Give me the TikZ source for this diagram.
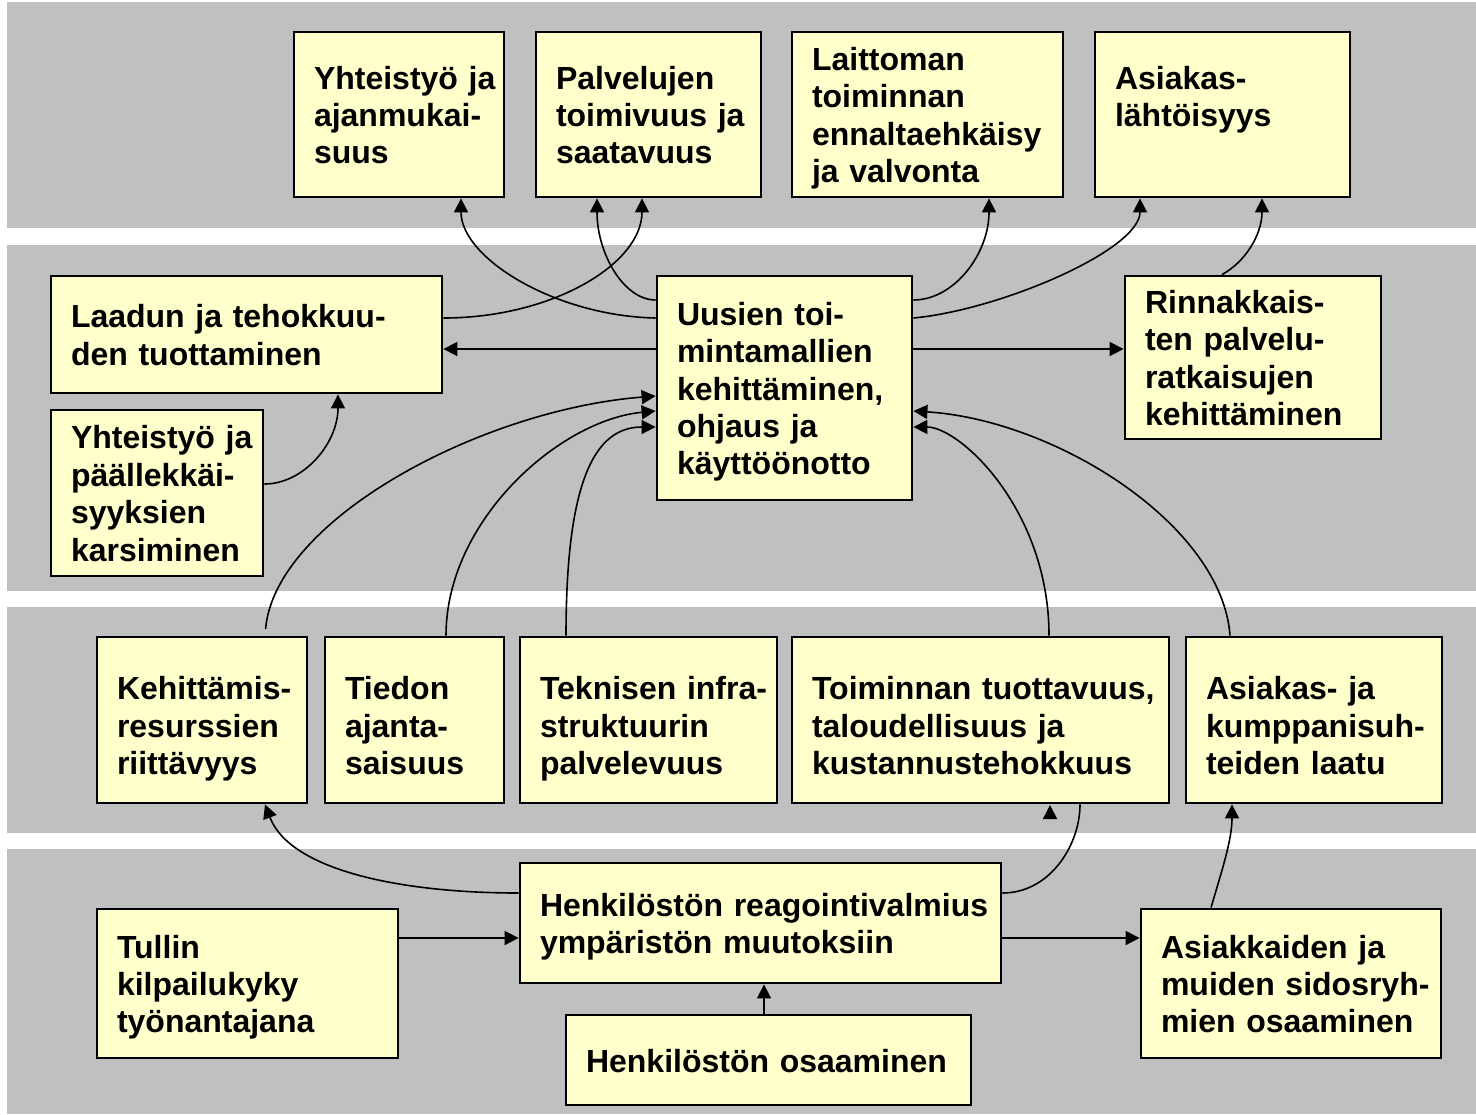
\documentclass[tikz,border=0pt]{standalone}
\usepackage{fontspec}
\setmainfont{Liberation Sans}
\usetikzlibrary{arrows.meta}
\definecolor{bandgrey}{HTML}{C0C0C0}
\definecolor{boxyellow}{HTML}{FFFFCC}
\newcommand\lnb[1]{\mbox{#1}}
\tikzset{
  box/.style={draw=black, line width=2.1pt, fill=boxyellow, inner xsep=15pt, inner ysep=0pt,
    align=left, font=\bfseries\fontsize{24}{28.1}\selectfont,
    execute at begin node={\rule{0pt}{24pt}},
    execute at end node={\rule[-6pt]{0pt}{6pt}}},
  lowbox/.style={box,
    execute at begin node={\rule{0pt}{32pt}}},
  arr/.style={line width=1.2pt, -{Triangle[length=10.5pt,width=10.5pt]}},
  con/.style={line width=1.2pt},
}
\begin{document}
\begin{tikzpicture}[x=0.75pt, y=-0.75pt]
\useasboundingbox (0,0) rectangle (1476,1114);
% bands
\fill[bandgrey] (7,2) rectangle (1476,228);
\fill[bandgrey] (7,245) rectangle (1476,591);
\fill[bandgrey] (7,607) rectangle (1476,833);
\fill[bandgrey] (7,849) rectangle (1476,1114);

% row 1
\node[box, minimum width=157.5pt, minimum height=123.75pt, text width=127.5pt] (A1) at (399,114.5)
  {\lnb{Yhteistyö ja}\\\lnb{ajanmukai-}\\\lnb{suus}};
\node[box, minimum width=168.75pt, minimum height=123.75pt, text width=138.75pt] (A2) at (648.5,114.5)
  {\lnb{Palvelujen}\\\lnb{toimivuus ja}\\\lnb{saatavuus}};
\node[box, minimum width=203.25pt, minimum height=123.75pt, text width=173.25pt] (A3) at (927.5,114.5)
  {\lnb{Laittoman}\\\lnb{toiminnan}\\\lnb{ennaltaehkäisy}\\\lnb{ja valvonta}};
\node[box, minimum width=191.25pt, minimum height=123.75pt, text width=161.25pt] (A4) at (1222.5,114.5)
  {\lnb{Asiakas-}\\\lnb{lähtöisyys}\\\mbox{}};

% row 2
\node[box, minimum width=293.25pt, minimum height=87.75pt, text width=263.25pt] (B1) at (246.5,334.5)
  {\lnb{Laadun ja tehokkuu-}\\\lnb{den tuottaminen}};
\node[box, minimum width=159pt, minimum height=124.5pt, text width=129pt] (B2) at (157,493)
  {\lnb{Yhteistyö ja}\\\lnb{päällekkäi-}\\\lnb{syyksien}\\\lnb{karsiminen}};
\node[box, minimum width=191.25pt, minimum height=168pt, text width=161.25pt] (C) at (784.5,388)
  {\lnb{Uusien toi-}\\\lnb{mintamallien}\\\lnb{kehittäminen,}\\\lnb{ohjaus ja}\\\lnb{käyttöönotto}};
\node[box, minimum width=192pt, minimum height=122.25pt, text width=162pt] (B3) at (1253,357.5)
  {\lnb{Rinnakkais-}\\\lnb{ten palvelu-}\\\lnb{ratkaisujen}\\\lnb{kehittäminen}};

% row 3
\node[lowbox, minimum width=157.5pt, minimum height=124.5pt, text width=127.5pt] (D1) at (202,720)
  {\lnb{Kehittämis-}\\\lnb{resurssien}\\\lnb{riittävyys}};
\node[lowbox, minimum width=134.25pt, minimum height=124.5pt, text width=104.25pt] (D2) at (414.5,720)
  {\lnb{Tiedon}\\\lnb{ajanta-}\\\lnb{saisuus}};
\node[lowbox, minimum width=192.75pt, minimum height=124.5pt, text width=162.75pt] (D3) at (648.5,720)
  {\lnb{Teknisen infra-}\\\lnb{struktuurin}\\\lnb{palvelevuus}};
\node[lowbox, minimum width=282.75pt, minimum height=124.5pt, text width=252.75pt] (D4) at (980.5,720)
  {\lnb{Toiminnan tuottavuus,}\\\lnb{taloudellisuus ja}\\\lnb{kustannustehokkuus}};
\node[lowbox, minimum width=192pt, minimum height=124.5pt, text width=162pt] (D5) at (1314,720)
  {\lnb{Asiakas- ja}\\\lnb{kumppanisuh-}\\\lnb{teiden laatu}};

% row 4
\node[box, minimum width=360.75pt, minimum height=90pt, text width=330.75pt] (E1) at (760.5,923)
  {\lnb{Henkilöstön reagointivalmius}\\\lnb{ympäristön muutoksiin}};
\node[box, minimum width=225.75pt, minimum height=111.75pt, text width=195.75pt] (E2) at (247.5,983.5)
  {\lnb{Tullin}\\\lnb{kilpailukyky}\\\lnb{työnantajana}};
\node[box, minimum width=225pt, minimum height=111.75pt, text width=195pt] (E3) at (1291,983.5)
  {\lnb{Asiakkaiden ja}\\\lnb{muiden sidosryh-}\\\lnb{mien osaaminen}};
\node[box, minimum width=303.75pt, minimum height=67.5pt, text width=273.75pt] (E4) at (768.5,1060)
  {\lnb{Henkilöstön osaaminen}};

% connectors to row 1
\draw[arr] (C.west |- 0,318) .. controls (555,316) and (461,258) .. (A1.south -| 461,0);
\draw[arr] (B1.east |- 0,318) .. controls (552,318) and (642,264) .. (A2.south -| 642,0);
\draw[arr] (C.west |- 0,300) .. controls (624,300) and (597,254) .. (A2.south -| 597,0);
\draw[arr] (C.east |- 0,300) .. controls (954,300) and (989,254) .. (A3.south -| 989,0);
\draw[arr] (C.east |- 0,318) .. controls (1000,310) and (1140,250) .. (A4.south -| 1140,0);
\draw[arr] (B3.north -| 1222,0) .. controls (1245,262) and (1262,235) .. (A4.south -| 1262,0);

% row 2 horizontals
\draw[arr] (C.west |- 0,349) -- (B1.east |- 0,349);
\draw[arr] (C.east |- 0,349) -- (B3.west |- 0,349);
\draw[arr] (B2.east |- 0,484) .. controls (304,484) and (338,443) .. (B1.south -| 338,0);

% row 3 to C
\draw[arr, shorten <=5pt] (D1.north -| 265,0) .. controls (275,520) and (480,410) .. (C.west |- 0,396);
\draw[arr] (D2.north -| 446,0) .. controls (446,520) and (560,420) .. (C.west |- 0,411);
\draw[arr] (D3.north -| 566,0) .. controls (566,480) and (595,427) .. (C.west |- 0,427);
\draw[arr] (D4.north -| 1049,0) .. controls (1049,510) and (960,427) .. (C.east |- 0,427);
\draw[arr] (D5.north -| 1230,0) .. controls (1222,525) and (1056,420) .. (C.east |- 0,411);

% row 4
\draw[arr] (E1.west |- 0,893) .. controls (400,893) and (290,870) .. (D1.south -| 265,0);
\draw[con] (E1.east |- 0,893) .. controls (1050,893) and (1080,845) .. (D4.south -| 1080,0);
\coordinate (tipbase) at (1050,818);
\coordinate (tiptop) at (1050,805);
\draw[arr] (tipbase) -- (tiptop);
\draw[arr] (E1.east |- 0,938) -- (E3.west |- 0,938);
\draw[arr] (E2.east |- 0,938) -- (E1.west |- 0,938);
\draw[arr] (E4.north -| 764,0) -- (E1.south -| 764,0);
\draw[arr] (E3.north -| 1211,0) .. controls (1222,870) and (1232,840) .. (D5.south -| 1232,0);
\end{tikzpicture}
\end{document}
